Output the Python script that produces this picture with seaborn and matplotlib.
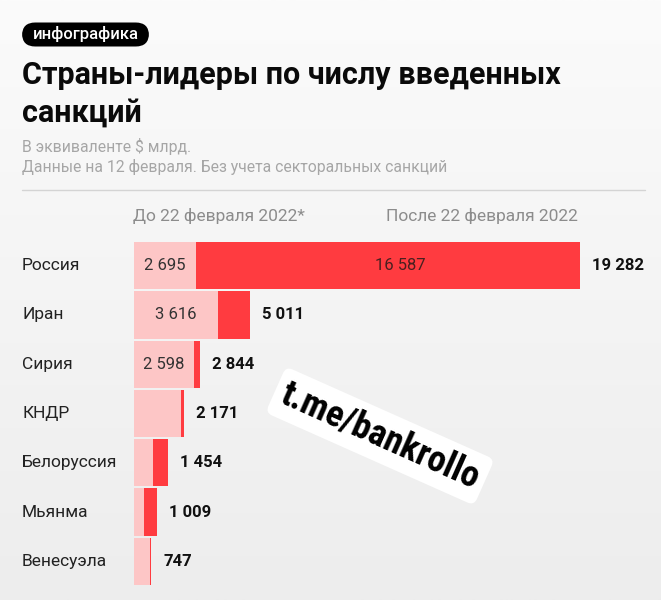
import numpy as np
import pandas as pd
import matplotlib
matplotlib.use("Agg")
import matplotlib.pyplot as plt
import seaborn as sns
from matplotlib.patches import FancyBboxPatch
from matplotlib import font_manager
from matplotlib.colors import LinearSegmentedColormap

# ---- data ----
countries = ["Россия", "Иран", "Сирия", "КНДР", "Белоруссия", "Мьянма", "Венесуэла"]
before = [2695, 3616, 2598, 2050, 800, 450, 690]
after = [16587, 1395, 246, 121, 654, 559, 57]
totals = [19282, 5011, 2844, 2171, 1454, 1009, 747]
inside_before = [True, True, True, False, False, False, False]
inside_after = [True, False, False, False, False, False, False]

title = "Страны-лидеры по числу введенных\nсанкций"
tag = "инфографика"
sub1 = "В эквиваленте $ млрд."
sub2 = "Данные на 12 февраля. Без учета секторальных санкций"
hdr_before = "До 22 февраля 2022*"
hdr_after = "После 22 февраля 2022"
watermark = "t.me/bankrollo"

LIGHT = "#FDC6C6"
RED = "#FF3B40"

sns.set_theme(style="white")
plt.rcParams["font.family"] = ["Roboto", "DejaVu Sans"]

installed = {f.name for f in font_manager.fontManager.ttflist}
wm_family, wm_size = "DejaVu Sans", 20
for cand, size in [("Liberation Sans Narrow", 26), ("DejaVu Sans Condensed", 22), ("Roboto Condensed", 26)]:
    if cand in installed:
        wm_family, wm_size = cand, size
        break

df = pd.DataFrame({"country": countries, "before": before, "total": totals})

W, H = 661, 600
fig = plt.figure(figsize=(W / 100, H / 100), dpi=100)

# background gradient
bg = fig.add_axes([0, 0, 1, 1], zorder=-10)
grad = np.linspace(0, 1, 256).reshape(-1, 1)
cmap = LinearSegmentedColormap.from_list("bg", ["#FBFBFB", "#EDEDED"])
bg.imshow(grad, aspect="auto", cmap=cmap, extent=[0, 1, 0, 1], origin="upper")
bg.set_axis_off()

# main axes
x0_px, x1_px = 134, 661
px_per_unit = (580 - 134) / 19282
xmax = (x1_px - x0_px) / px_per_unit
top_px, bot_px = 241, 586
ax = fig.add_axes([x0_px / W, 1 - bot_px / H, (x1_px - x0_px) / W, (bot_px - top_px) / H])
ax.patch.set_alpha(0)

sns.barplot(data=df, x="total", y="country", orient="h", color=RED, width=0.96,
            saturation=1, ax=ax, linewidth=0)
sns.barplot(data=df, x="before", y="country", orient="h", color=LIGHT, width=0.96,
            saturation=1, ax=ax, linewidth=0)

ax.set_xlim(0, xmax)
ax.set_ylim(len(countries) - 0.5, -0.5)
ax.set_axis_off()

fmt = lambda v: f"{v:,}".replace(",", " ")

for i, c in enumerate(countries):
    ax.text(-(134 - 22) / px_per_unit, i, c, ha="left", va="center", fontsize=12.5, color="#222222")
    if inside_before[i]:
        ax.text(before[i] / 2, i, fmt(before[i]), ha="center", va="center", fontsize=12, color="#333333")
    if inside_after[i]:
        ax.text(before[i] + after[i] / 2 + 12 / px_per_unit, i, fmt(after[i]), ha="center", va="center",
                fontsize=12, color="#4a2020")
    ax.text(totals[i] + 12 / px_per_unit, i, fmt(totals[i]), ha="left", va="center",
            fontsize=12, fontweight="bold", color="#111111")

# headers
fig.text(133 / W, 1 - 216 / H, hdr_before, ha="left", va="center", fontsize=12.5, color="#8c8c8c")
fig.text(578 / W, 1 - 216 / H, hdr_after, ha="right", va="center", fontsize=12.5, color="#8c8c8c")

# separator line
fig.add_artist(plt.Line2D([22 / W, 645 / W], [1 - 190 / H, 1 - 190 / H], color="#d4d4d4", linewidth=1))

# title
fig.text(22 / W, 1 - 60 / H, title, ha="left", va="top", fontsize=22, fontweight="bold",
         color="#0a0a0a", linespacing=1.3)
fig.text(22 / W, 1 - 146 / H, sub1, ha="left", va="center", fontsize=11.3, color="#a6a6a6")
fig.text(22 / W, 1 - 167 / H, sub2, ha="left", va="center", fontsize=11.3, color="#a6a6a6")

# pill tag
pill = FancyBboxPatch((22 / W, 1 - 46.5 / H), (149 - 22) / W, 24 / H,
                      boxstyle="round,pad=0,rounding_size=0.02", transform=fig.transFigure,
                      fc="black", ec="none", mutation_aspect=W / H)
fig.add_artist(pill)
fig.text(85.5 / W, 1 - 34.5 / H, tag, ha="center", va="center", fontsize=12, fontweight="medium",
         color="white")

# watermark
fig.text(380 / W, 1 - 436 / H, watermark, ha="center", va="center", rotation=-24,
         fontsize=wm_size, fontweight="bold", color="black", family=[wm_family],
         bbox=dict(boxstyle="round,pad=0.2,rounding_size=0.2", fc="white", ec="none"))

fig.savefig("out.png", dpi=100)
